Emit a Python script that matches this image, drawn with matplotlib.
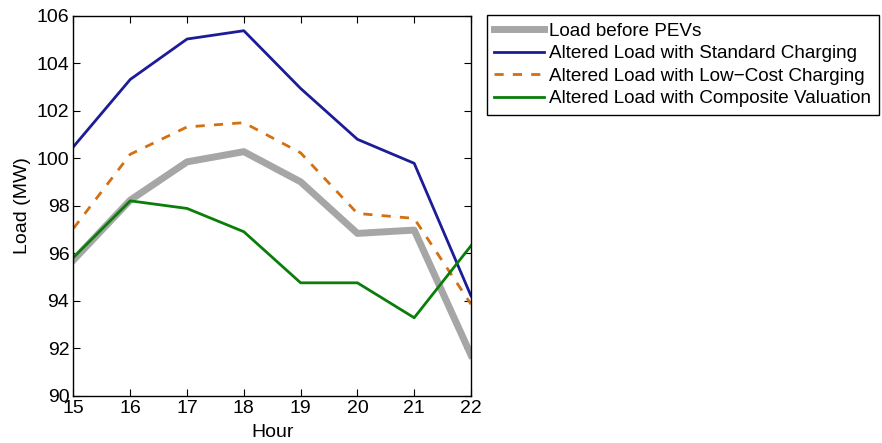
import numpy as np
import matplotlib.pyplot as plt

plt.rcParams.update({
    "font.family": ["Liberation Sans", "DejaVu Sans"],
    "font.size": 14,
})

hours = [15, 16, 17, 18, 19, 20, 21, 22]
load_before = [95.71, 98.23, 99.84, 100.27, 99.0, 96.83, 96.97, 91.71]
standard = [100.48, 103.31, 105.01, 105.36, 102.93, 100.79, 99.78, 94.20]
low_cost = [97.04, 100.16, 101.31, 101.49, 100.22, 97.67, 97.46, 93.85]
composite = [95.82, 98.20, 97.88, 96.90, 94.75, 94.75, 93.28, 96.31]

labels = ["Load before PEVs",
          "Altered Load with Standard Charging",
          "Altered Load with Low\u2212Cost Charging",
          "Altered Load with Composite Valuation"]

fig = plt.figure(figsize=(8.82, 4.43), dpi=100)
ax = fig.add_axes([0.0833, 0.1068, 0.4507, 0.8582])

ax.plot(hours, load_before, color="#a6a6a6", lw=5, label=labels[0])
ax.plot(hours, standard, color="#1c1c96", lw=2, label=labels[1])
ax.plot(hours, low_cost, color="#d46f12", lw=2, ls=(0, (3.3, 3.3)), label=labels[2])
ax.plot(hours, composite, color="#0a7d0a", lw=2, label=labels[3])

ax.set_xlim(15, 22)
ax.set_ylim(90, 106)
ax.set_xticks(hours)
ax.set_yticks(np.arange(90, 107, 2))
ax.tick_params(direction="in", top=True, right=True, length=5, width=0.8, labelsize=14)
ax.tick_params(axis="x", pad=3)
ax.tick_params(axis="y", pad=3)
for s in ax.spines.values():
    s.set_linewidth(1.0)

ax.set_xlabel("Hour", fontsize=14, labelpad=5)
ax.set_ylabel("Load (MW)", fontsize=14, labelpad=4)

leg = fig.legend(loc="upper left", bbox_to_anchor=(0.552, 0.966), borderaxespad=0,
                 fancybox=False, edgecolor="black", framealpha=1, fontsize=13.6,
                 handlelength=2.6, handletextpad=0.3, labelspacing=0.28, borderpad=0.4)
leg.get_frame().set_linewidth(1.0)

fig.savefig("out.png", dpi=100)
